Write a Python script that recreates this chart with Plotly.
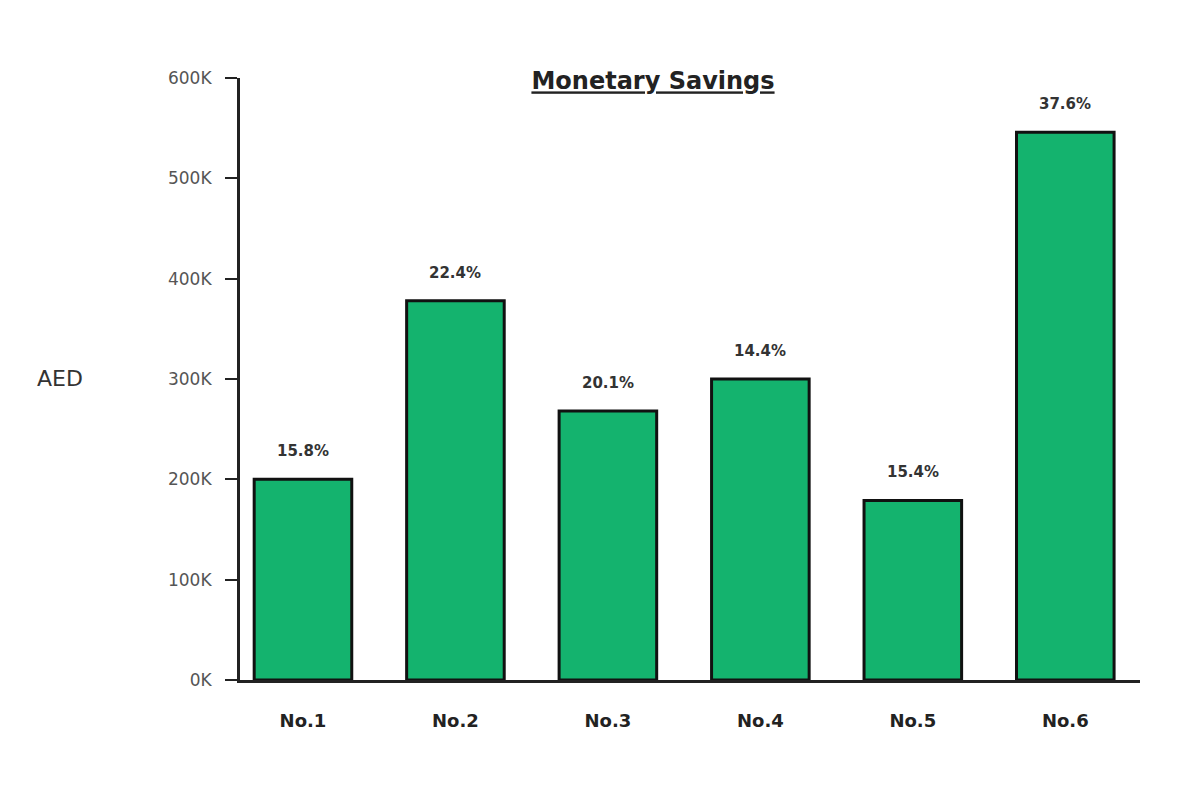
import plotly.graph_objects as go

categories = ["No.1", "No.2", "No.3", "No.4", "No.5", "No.6"]
savings = [200000, 378000, 268000, 300000, 179000, 546000]
pct_labels = ["15.8%", "22.4%", "20.1%", "14.4%", "15.4%", "37.6%"]
y_tickvals = [0, 100000, 200000, 300000, 400000, 500000, 600000]
y_ticktext = ["0K", "100K", "200K", "300K", "400K", "500K", "600K"]

FONT = "DejaVu Sans, Liberation Sans, Arial"

fig = go.Figure()
fig.add_trace(go.Bar(
    x=categories,
    y=savings,
    width=0.64,
    marker=dict(color="#14b36e", line=dict(color="#111111", width=3)),
))

annotations = [
    dict(x=c, y=v, xref="x", yref="y", text=f"<b>{t}</b>", showarrow=False,
         yanchor="middle", yshift=28,
         font=dict(family=FONT, size=15, color="#333333"))
    for c, v, t in zip(categories, savings, pct_labels)
]
annotations.append(dict(
    text="AED", xref="paper", yref="paper",
    x=(60 - 240) / 900, y=(680 - 378) / 602,
    xanchor="center", yanchor="middle", showarrow=False,
    font=dict(family=FONT, size=22, color="#333333"),
))

fig.update_layout(
    width=1200, height=800,
    paper_bgcolor="white", plot_bgcolor="white",
    margin=dict(l=232, r=68, t=70, b=128),
    showlegend=False,
    font=dict(family=FONT, color="#333333"),
    title=dict(
        text="<b><u>Monetary Savings</u></b>",
        x=645 / 1200, xanchor="center", y=1 - 73 / 800, yanchor="middle",
        font=dict(family=FONT, size=24, color="#222222"),
    ),
    xaxis=dict(
        type="category",
        range=[-0.413, 5.49],
        showline=True, linecolor="#222222", linewidth=3,
        ticks="", showgrid=False, zeroline=False,
        tickfont=dict(size=18, color="#222222", family=FONT),
        tickprefix="<b>", ticksuffix="</b>",
        ticklabelstandoff=22,
    ),
    yaxis=dict(
        range=[0, 600000],
        tickvals=y_tickvals, ticktext=y_ticktext,
        showline=True, linecolor="#222222", linewidth=3,
        ticks="outside", ticklen=12, tickwidth=2, tickcolor="#222222",
        showgrid=False, zeroline=False,
        tickfont=dict(size=17, color="#555555", family=FONT),
        ticklabelstandoff=10,
    ),
    annotations=annotations,
)

fig.write_html("out.html")
